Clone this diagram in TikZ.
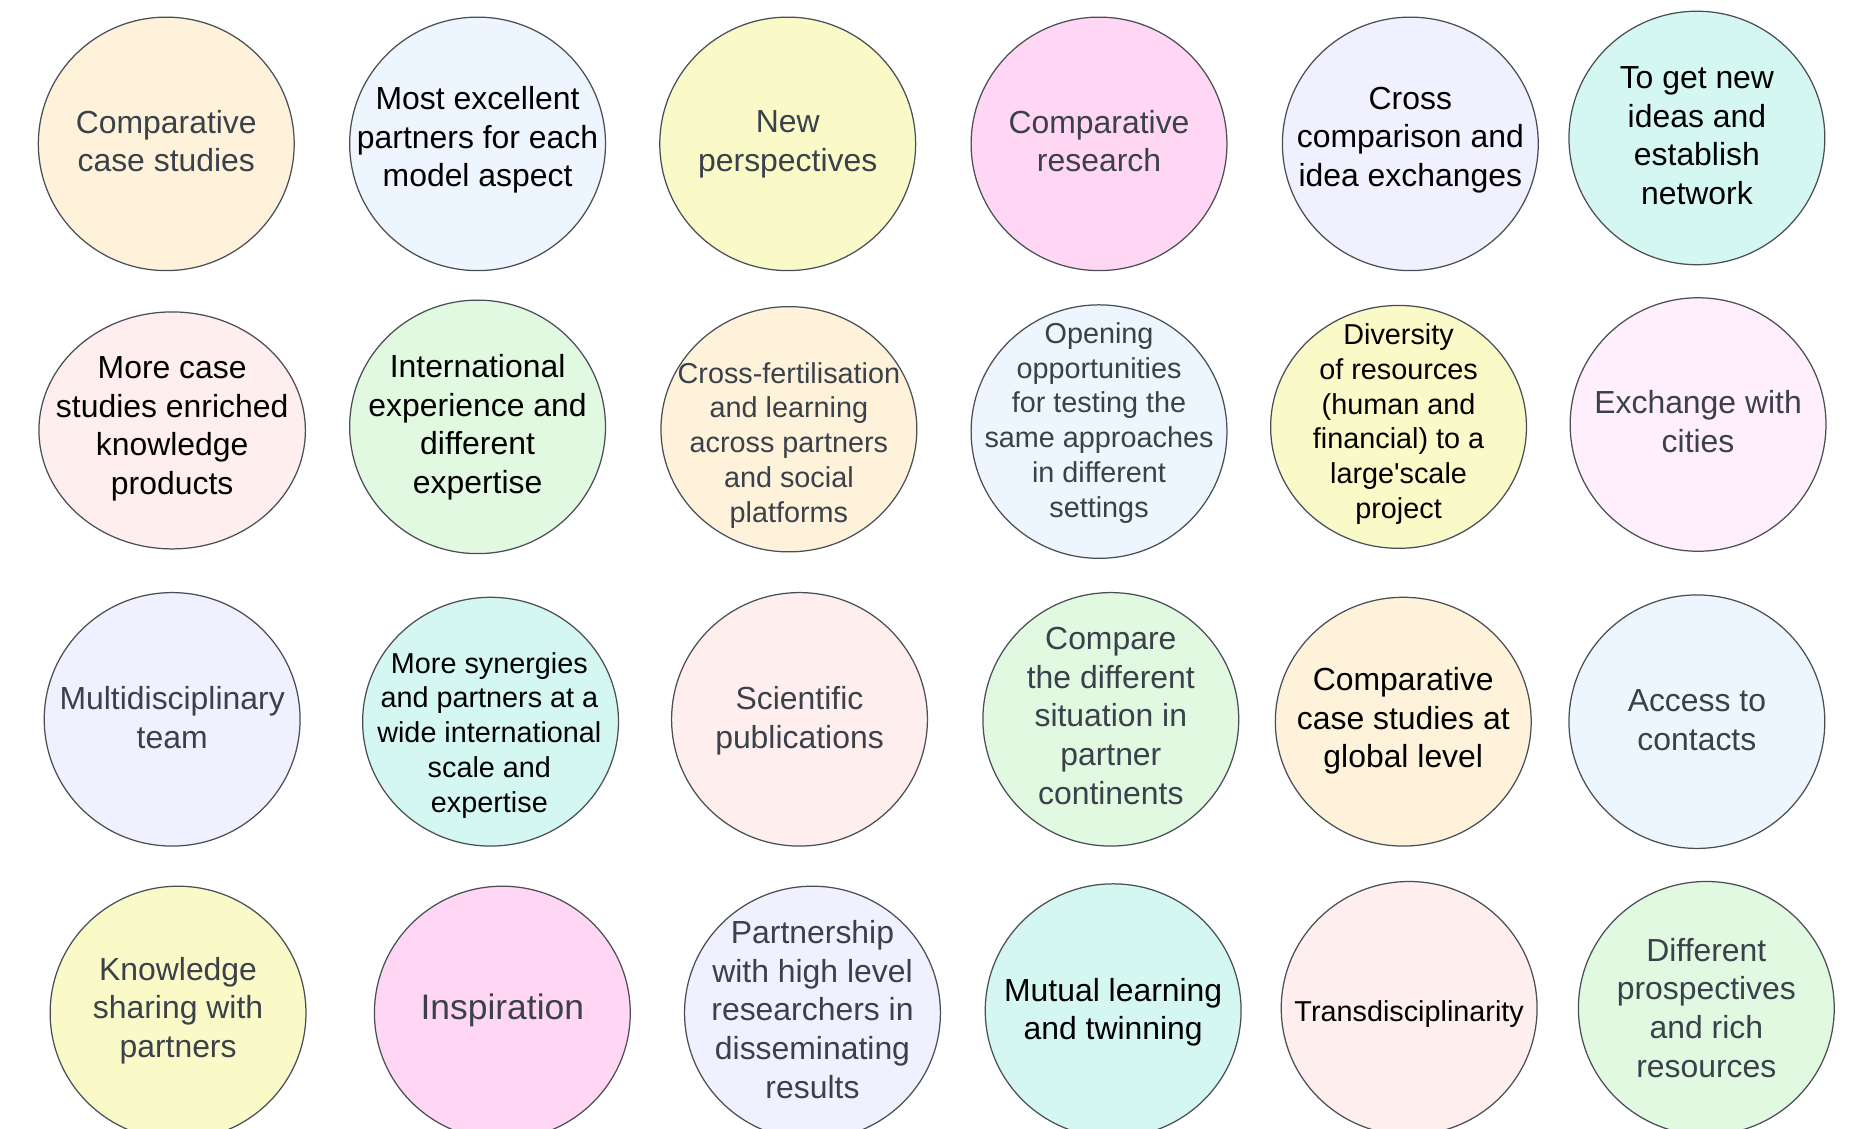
\documentclass[tikz,border=0pt]{standalone}
\usepackage{fontspec}
\setmainfont{Liberation Sans}
\usetikzlibrary{shapes.geometric}

\definecolor{edge}{HTML}{4A4F57}
\definecolor{txtgray}{HTML}{3A414A}
\definecolor{fOrange}{HTML}{FEF3DA}
\definecolor{fBlue}{HTML}{EDF5FF}
\definecolor{fYellow}{HTML}{FAFAC8}
\definecolor{fMagenta}{HTML}{FFD7F4}
\definecolor{fLavender}{HTML}{F0F0FF}
\definecolor{fTeal}{HTML}{D5F7F1}
\definecolor{fRose}{HTML}{FFEEEE}
\definecolor{fGreen}{HTML}{E1F8E1}
\definecolor{fPink}{HTML}{FFEEFB}

\tikzset{
  bub/.style={ellipse, draw=edge, line width=0.6pt, inner sep=0pt,
              minimum width=4.34cm, minimum height=4.30cm},
  lbl/.style={align=center, inner sep=0pt, text=black, text depth=0pt,
              font=\fontsize{15.4}{18.6}\selectfont},
  lblgray/.style={lbl, text=txtgray},
  small/.style={font=\fontsize{13.9}{16.8}\selectfont},
}

\begin{document}
\begin{tikzpicture}[x=0.02cm, y=-0.02cm]
\useasboundingbox (0,0) rectangle (1568,957);
\fill[white] (0,0) rectangle (1568,957);
\clip (0,0) rectangle (1568,957);

% first row
\node[bub, fill=fOrange]   (a1) at (141,122) {};
\node[lblgray] (a1t) at (141,119.5) {Comparative\\case studies};
\node[bub, fill=fBlue]     (a2) at (405,122) {};
\node[lbl] (a2t) at (405,116) {Most excellent\\partners for each\\model aspect};
\node[bub, fill=fYellow]   (a3) at (668,122) {};
\node[lblgray] (a3t) at (668,119.5) {New\\perspectives};
\node[bub, fill=fMagenta]  (a4) at (932,122) {};
\node[lblgray] (a4t) at (932,119.5) {Comparative\\research};
\node[bub, fill=fLavender] (a5) at (1196,122) {};
\node[lbl] (a5t) at (1196,116) {Cross\\comparison and\\idea exchanges};
\node[bub, fill=fTeal]     (a6) at (1439,117) {};
\node[lbl] (a6t) at (1439,115) {To get new\\ideas and\\establish\\network};

% second row
\node[bub, fill=fRose, minimum width=4.52cm, minimum height=4.02cm] (b1) at (146,365) {};
\node[lbl] (b1t) at (146,361) {More case\\studies enriched\\knowledge\\products};
\node[bub, fill=fGreen]    (b2) at (405,362) {};
\node[lbl] (b2t) at (405,359.5) {International\\experience and\\different\\expertise};
\node[bub, fill=fOrange, minimum height=4.16cm] (b3) at (669,364) {};
\node[lblgray, small] (b3t) at (669,375) {Cross-fertilisation\\and learning\\across partners\\and social\\platforms};
\node[bub, fill=fBlue]     (b4) at (932,366) {};
\node[lblgray, small] (b4t) at (932,356) {Opening\\opportunities\\for testing the\\same approaches\\in different\\settings};
\node[bub, fill=fYellow, minimum height=4.12cm] (b5) at (1186,362) {};
\node[lbl, small] (b5t) at (1186,357) {Diversity\\of resources\\(human and\\financial) to a\\large\textquotesingle scale\\project};
\node[bub, fill=fPink]     (b6) at (1440,360) {};
\node[lblgray] (b6t) at (1440,357.5) {Exchange with\\cities};

% third row
\node[bub, fill=fLavender] (c1) at (146,610) {};
\node[lblgray] (c1t) at (146,608.5) {Multidisciplinary\\team};
\node[bub, fill=fTeal, minimum height=4.22cm] (c2) at (416,612) {};
\node[lbl, small] (c2t) at (415,621) {More synergies\\and partners at a\\wide international\\scale and\\expertise};
\node[bub, fill=fRose]     (c3) at (678,610) {};
\node[lblgray] (c3t) at (678,608.5) {Scientific\\publications};
\node[bub, fill=fGreen]    (c4) at (942,610) {};
\node[lblgray] (c4t) at (942,607) {Compare\\the different\\situation in\\partner\\continents};
\node[bub, fill=fOrange, minimum height=4.22cm] (c5) at (1190,612) {};
\node[lbl] (c5t) at (1190,608.5) {Comparative\\case studies at\\global level};
\node[bub, fill=fBlue]     (c6) at (1439,612) {};
\node[lblgray] (c6t) at (1439,610.5) {Access to\\contacts};

% fourth row, running off the lower edge
\node[bub, fill=fYellow]   (d1) at (151,859) {};
\node[lblgray] (d1t) at (151,854) {Knowledge\\sharing with\\partners};
\node[bub, fill=fMagenta]  (d2) at (426,859) {};
\node[lblgray, font=\fontsize{17.1}{20.5}\selectfont] (d2t) at (426,854) {Inspiration};
\node[bub, fill=fLavender] (d3) at (689,859) {};
\node[lblgray] (d3t) at (689,856) {Partnership\\with high level\\researchers in\\disseminating\\results};
\node[bub, fill=fTeal]     (d4) at (944,857) {};
\node[lbl] (d4t) at (944,855.5) {Mutual learning\\and twinning};
\node[bub, fill=fRose]     (d5) at (1195,855) {};
\node[lbl, small] (d5t) at (1195,857) {Transdisciplinarity};
\node[bub, fill=fGreen]    (d6) at (1447,855) {};
\node[lblgray] (d6t) at (1447,854.5) {Different\\prospectives\\and rich\\resources};
\end{tikzpicture}
\end{document}
